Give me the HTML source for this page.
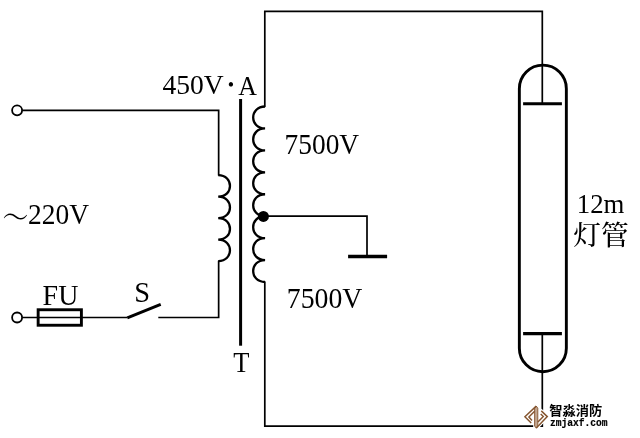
<!DOCTYPE html>
<html><head><meta charset="utf-8"><title>circuit</title>
<style>
html,body{margin:0;padding:0;background:#fff;}
svg{display:block;will-change:transform;}
text{fill:#000;}
</style></head><body>
<svg width="640" height="438" viewBox="0 0 640 438">
<rect width="640" height="438" fill="#fff"/>
<g fill="none" stroke="#000" stroke-width="1.7" stroke-linejoin="miter" stroke-linecap="butt">
  <!-- primary circuit -->
  <path d="M21.5,110.3 H218.65 V175.6"/>
  <path d="M218.2,175.2 C233.90,175.20 233.90,196.68 218.2,196.68 C233.90,196.68 233.90,218.15 218.2,218.15 C233.90,218.15 233.90,239.62 218.2,239.62 C233.90,239.62 233.90,261.10 218.2,261.10" stroke-width="2.3"/>
  <path d="M218.65,260.7 V317.5 H158.3"/>
  <path d="M127.2,317.5 H21.5"/>
  <path d="M127.3,317.8 L160.7,304.3" stroke-width="2.9"/>
  <rect x="38.15" y="309.75" width="43.25" height="15.5" stroke-width="2.9"/>
  <circle cx="17.1" cy="110.3" r="5" stroke-width="1.8" fill="#fff"/>
  <circle cx="17.1" cy="317.5" r="5" stroke-width="1.8" fill="#fff"/>
  <!-- core -->
  <path d="M240.6,99 V345.7" stroke-width="3"/>
  <!-- secondary -->
  <path d="M264.8,107 V11.3 H542.3 V103.5"/>
  <path d="M265.1,106.5 C249.20,106.50 249.20,128.44 265.1,128.44 C249.20,128.44 249.20,150.38 265.1,150.38 C249.20,150.38 249.20,172.31 265.1,172.31 C249.20,172.31 249.20,194.25 265.1,194.25 C249.20,194.25 249.20,216.19 265.1,216.19 C249.20,216.19 249.20,238.12 265.1,238.12 C249.20,238.12 249.20,260.06 265.1,260.06 C249.20,260.06 249.20,282.00 265.1,282.00" stroke-width="2.3"/>
  <path d="M264.8,281.5 V426.1 H542.3 V333.5"/>
  <path d="M263,216.1 H367.0 V256"/>
  <path d="M348.1,256.4 H387.1" stroke-width="3.5"/>
  <!-- lamp -->
  <path d="M519.35,88.65 A23.5,23.5 0 0 1 566.35,88.65 V348.2 A23.5,23.5 0 0 1 519.35,348.2 Z" stroke-width="2.9"/>
  <path d="M523.1,103.7 H561.9" stroke-width="3.1"/>
  <path d="M523.1,333.6 H561.9" stroke-width="3.1"/>
</g>
<circle cx="263.4" cy="216.4" r="5.5"/>
<!-- labels -->
<text transform="translate(162.44,94.21) scale(1.0203,0.9892)" font-size="27" style="font-family:'Liberation Serif','Noto Serif CJK SC',serif;">450V</text>
<text transform="translate(227.63,91.08) scale(1.2923,1.2923)" font-size="14" style="font-family:'Liberation Serif','Noto Serif CJK SC',serif;">•</text>
<text transform="translate(238.16,94.7) scale(0.9579,1.0141)" font-size="27" style="font-family:'Liberation Serif','Noto Serif CJK SC',serif;">A</text>
<text transform="translate(2.62,228.03) scale(0.9562,1.14)" font-size="27" font-weight="300" style="font-family:'Liberation Serif','Noto Serif CJK SC',serif;">～</text>
<text transform="translate(28.08,224.42) scale(1.0162,1.0595)" font-size="27" style="font-family:'Liberation Serif','Noto Serif CJK SC',serif;">220V</text>
<text transform="translate(42.62,305.12) scale(1.0346,1.125)" font-size="27" style="font-family:'Liberation Serif','Noto Serif CJK SC',serif;">FU</text>
<text transform="translate(134.26,301.83) scale(1.0522,1.0833)" font-size="27" style="font-family:'Liberation Serif','Noto Serif CJK SC',serif;">S</text>
<text transform="translate(233.31,371.9) scale(0.9806,1.0704)" font-size="27" style="font-family:'Liberation Serif','Noto Serif CJK SC',serif;">T</text>
<text transform="translate(284.57,153.85) scale(1.0147,1.0919)" font-size="27" style="font-family:'Liberation Serif','Noto Serif CJK SC',serif;">7500V</text>
<text transform="translate(286.8,307.96) scale(1.028,1.0811)" font-size="27" style="font-family:'Liberation Serif','Noto Serif CJK SC',serif;">7500V</text>
<text transform="translate(576.72,212.9) scale(0.9933,1.031)" font-size="27" style="font-family:'Liberation Serif','Noto Serif CJK SC',serif;">12m</text>
<text transform="translate(573.17,244.9) scale(1.0269,1.02)" font-size="27" font-weight="500" style="font-family:'Liberation Serif','Noto Serif CJK SC',serif;">灯管</text>
<!-- watermark -->
<g fill="none" stroke-linejoin="miter" stroke-linecap="butt">
  <g stroke="#fff" stroke-width="3.6" stroke-linejoin="round" stroke-linecap="round">
    <path d="M531,422.8 L524.9,416.8 L536.2,406.1"/>
    <path d="M536.3,428.1 L547.3,416.6 L541.5,411.1"/>
    <path d="M536.2,406.5 V427.8" stroke-width="6"/>
    <path d="M537.8,407.6 L547.3,416.6 L536.3,428.1 Z" fill="#fff" stroke-width="3"/>
    <path d="M534.6,407.6 L524.9,416.8 L531,422.8 L534.6,422 Z" fill="#fff" stroke-width="3"/>
  </g>
  <path d="M534.6,408.2 L536.2,406 L537.8,408.2 V426 L536.3,428.2 L534.6,426 Z" fill="#c2a690" stroke="#85552f" stroke-width="0.9"/>
  <g stroke="#85552f" stroke-width="1.45">
    <path d="M531.2,423 L524.9,416.8 L536.2,406.1"/>
    <path d="M532,420.6 L528.9,417.1 L534.6,411.2"/>
    <path d="M536.3,428.1 L547.3,416.6 L541.3,410.9"/>
    <path d="M537.9,421.9 L543.3,416.5 L540.7,414"/>
  </g>
</g>
<text transform="translate(549.19,414.96) scale(1.0196,0.9959)" font-size="13" font-weight="bold" style="font-family:'Liberation Sans','Noto Sans CJK SC',sans-serif;">智淼消防</text>
<text transform="translate(549.91,426.35) scale(0.9166,1.0)" font-size="10.5" font-weight="bold" style="font-family:'Liberation Mono',monospace;stroke:#000;stroke-width:0.18px;">zmjaxf.com</text>
</svg>
</body></html>
